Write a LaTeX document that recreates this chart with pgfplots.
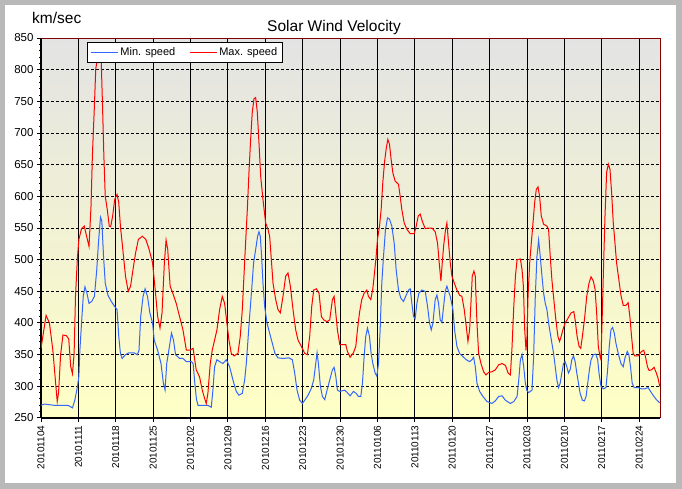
\documentclass[border=0pt]{standalone}
\usepackage{pgfplots}
\pgfplotsset{compat=1.18}
\usepackage{fontspec}
\setmainfont{Liberation Sans}
\definecolor{minblue}{RGB}{51,102,255}
\definecolor{frameRed}{RGB}{128,0,0}
\definecolor{bgtop}{RGB}{227,227,227}
\definecolor{bgbot}{RGB}{255,255,198}
\begin{document}
\begin{tikzpicture}
\useasboundingbox (0,0) rectangle (682bp,489bp);
\fill[gray!55] (0,0) rectangle (682bp,489bp);
\fill[white] (5bp,6bp) rectangle (676bp,484bp);
\begin{axis}[
 at={(41bp,71bp)}, anchor=south west, name=ax,
 scale only axis, width=619bp, height=380bp,
 xmin=0, xmax=115.9, ymin=250, ymax=850,
 axis lines*=left, axis line style={-},
 x axis line style={line width=1.2bp},
 y axis line style={line width=2bp},
 xtick={0,7,...,112},
 xticklabels={20101104,20101111,20101118,20101125,20101202,20101209,20101216,20101223,20101230,20110106,20110113,20110120,20110127,20110203,20110210,20110217,20110224},
 ytick={250,300,...,850}, minor y tick num=4,
 tick align=outside, major tick length=4bp, minor tick length=2bp,
 tick style={black, line width=1bp},
 grid=major,
 x grid style={black, line width=1bp},
 y grid style={black, line width=1bp, dash pattern=on 3bp off 2bp},
 axis background/.style={top color=bgtop, bottom color=bgbot},
 /pgf/number format/assume math mode=true,
 yticklabel style={font=\fontsize{11.5bp}{12bp}\selectfont},
 xticklabel style={rotate=90, anchor=east, font=\fontsize{10bp}{12bp}\selectfont},
 legend style={at={(0.0743,0.99)}, anchor=north west, draw=black, line width=1bp, fill=white,
   font=\fontsize{11bp}{12bp}\selectfont, legend columns=2, inner xsep=3bp, inner ysep=3.5bp,
   /tikz/every even column/.append style={column sep=12bp}, cells={anchor=west}},
 legend image code/.code={\draw[#1, line width=1bp] (0bp,0bp) -- (27bp,0bp);},
]
\addplot[minblue, line width=1bp] coordinates {
(0,270) (0.63,272) (2.53,270) (5.06,270) (5.89,266) (6.33,278) (6.84,300) (7.09,316) (7.28,357) (7.59,400)
(7.91,442) (8.23,457) (8.61,447) (8.99,431) (9.49,434) (10.00,442) (10.44,484) (10.76,527) (11.14,567) (11.39,561)
(11.71,505) (12.03,463) (12.53,444) (13.16,434) (13.80,426) (14.24,421) (14.56,379) (14.87,352) (15.19,344) (15.82,350)
(16.46,353) (17.41,353) (18.04,350) (18.35,357) (18.67,410) (19.11,442) (19.49,454) (19.94,442) (20.38,416) (20.89,400)
(21.20,373) (21.84,357) (22.47,336) (22.91,305) (23.23,294) (23.54,336) (24.05,363) (24.43,384) (24.81,373) (25.19,350)
(25.95,344) (26.58,344) (27.22,339) (28.16,339) (28.48,336) (28.8,305) (29.1,280) (29.4,270) (30.31,270) (31.25,270)
(31.88,267) (32.19,294) (32.50,331) (32.94,342) (33.44,339) (34.06,336) (34.69,342) (35.31,331) (35.94,310) (36.56,292)
(37.06,286) (37.69,289) (38.13,310) (38.44,336) (38.75,373) (39.06,410) (39.44,452) (39.81,495) (40.19,516) (40.56,537)
(40.81,544) (41.06,537) (41.31,505) (41.56,463) (41.88,426) (42.31,400) (42.81,384) (43.31,368) (43.81,352) (44.38,345)
(45.31,344) (46.44,345) (47.06,342) (47.50,321) (47.94,294) (48.44,278) (48.94,273) (49.38,278) (50.00,286) (50.63,297)
(51.06,310) (51.44,336) (51.69,353) (51.94,336) (52.31,300) (52.69,284) (53.13,279) (53.56,294) (54.06,310) (54.56,326)
(54.88,330) (55.19,316) (55.50,294) (55.94,292) (56.88,294) (57.25,291) (57.88,285) (58.50,292) (59.00,289) (59.44,284)
(59.88,284) (60.19,305) (60.50,347) (60.81,379) (61.13,392) (61.50,379) (61.81,352) (62.13,336) (62.56,321) (62.88,316)
(63.19,336) (63.50,389) (63.81,463) (64.13,505) (64.50,548) (64.88,566) (65.25,564) (65.69,553) (66.13,526) (66.50,484)
(66.94,452) (67.38,439) (67.88,434) (68.38,444) (68.81,452) (69.13,454) (69.44,431) (69.75,410) (70.06,407) (70.38,431)
(70.75,447) (71.31,452) (71.94,450) (72.38,426) (72.75,400) (73.06,389) (73.38,400) (73.81,437) (74.13,444) (74.44,431)
(74.75,405) (75.06,401) (75.38,426) (75.69,450) (76.00,458) (76.31,450) (76.63,442) (77.13,421) (77.44,389) (77.88,363)
(78.38,352) (79.00,347) (79.63,342) (80.25,339) (80.69,342) (81.00,346) (81.31,331) (81.63,305) (82.13,292) (82.75,284)
(83.50,276) (84.44,273) (85.06,277) (85.69,284) (86.34,285) (86.96,278) (87.89,273) (88.52,276) (89.14,284) (89.45,310)
(89.76,342) (90.07,350) (90.38,331) (90.69,305) (90.94,294) (91.31,290) (91.93,294) (92.24,347) (92.55,442) (92.86,505)
(93.17,531) (93.48,505) (93.80,474) (94.11,447) (94.42,431) (94.73,421) (95.04,400) (95.35,384) (95.66,368) (95.97,352)
(96.28,331) (96.59,310) (96.90,298) (97.21,305) (97.52,321) (97.83,336) (98.14,339) (98.45,331) (98.76,321) (99.07,326)
(99.39,342) (99.70,348) (100.01,339) (100.32,321) (100.63,305) (100.94,289) (101.37,278) (101.75,277) (102.06,284) (102.37,305)
(102.68,326) (102.99,342) (103.42,350) (103.86,351) (104.23,342) (104.48,321) (104.85,300) (105.29,296) (105.78,298) (106.09,326)
(106.40,363) (106.71,389) (107.02,393) (107.34,384) (107.65,368) (108.08,352) (108.58,336) (109.01,331) (109.32,344) (109.76,355)
(110.07,350) (110.38,331) (110.69,305) (111.06,298) (111.81,298) (112.43,296) (113.05,296) (113.67,298) (113.98,294) (114.60,286)
(115.22,279) (115.84,274)
};
\addlegendentry{Min. speed}
\addplot[red, line width=1bp] coordinates {
(0,360) (0.95,412) (1.58,400) (2.22,357) (2.85,294) (3.04,276) (3.29,290) (3.67,350) (4.11,381) (4.75,380)
(5.19,375) (5.57,331) (5.89,320) (6.20,352) (6.46,442) (6.8,500) (7.09,532) (7.59,549) (8.10,553) (8.54,537)
(8.99,521) (9.37,585) (9.62,664) (10.00,743) (10.25,801) (10.51,815) (10.76,838) (11.01,838) (11.27,815) (11.52,743)
(11.77,664) (12.03,600) (12.41,579) (12.78,553) (13.04,552) (13.42,569) (13.80,595) (14.24,603) (14.56,590) (14.87,553)
(15.32,516) (15.82,474) (16.33,450) (16.77,458) (17.22,484) (17.72,511) (18.23,532) (18.99,537) (19.62,532) (20.25,516)
(20.89,495) (21.39,452) (21.84,410) (22.28,392) (22.66,416) (23.10,495) (23.42,531) (23.73,516) (24.18,458) (24.68,447)
(25.32,431) (25.95,410) (26.58,389) (27.22,357) (27.85,357) (28.48,360) (29.06,326) (29.69,315) (30.19,294) (30.63,281)
(30.94,273) (31.25,289) (31.69,336) (32.06,357) (32.50,373) (32.94,389) (33.44,421) (33.94,442) (34.38,431) (34.81,400)
(35.19,373) (35.63,352) (36.13,348) (36.88,352) (37.31,379) (37.69,421) (38.00,474) (38.31,527) (38.63,579) (38.94,638)
(39.25,690) (39.56,733) (39.88,754) (40.19,756) (40.50,733) (40.81,685) (41.13,632) (41.56,595) (42.06,558) (42.50,548)
(42.81,537) (43.13,500) (43.44,463) (43.94,437) (44.38,421) (44.81,416) (45.31,442) (45.81,474) (46.25,479) (46.69,458)
(47.19,421) (47.69,389) (48.13,373) (48.75,363) (49.38,352) (49.88,350) (50.31,379) (50.69,426) (51.06,452) (51.56,454)
(52.06,447) (52.50,410) (52.94,405) (53.56,402) (54.06,405) (54.56,437) (54.88,442) (55.19,416) (55.50,389) (55.94,366)
(56.56,366) (57.06,366) (57.38,355) (57.88,346) (58.50,353) (58.94,363) (59.25,389) (59.63,416) (60.06,437) (60.50,447)
(61.00,452) (61.31,442) (61.75,437) (62.13,454) (62.44,479) (62.75,505) (63.00,532) (63.38,553) (63.69,579) (64.00,622)
(64.31,653) (64.63,675) (64.94,690) (65.25,682) (65.56,658) (65.88,637) (66.31,624) (66.94,619) (67.25,600) (67.56,579)
(68.00,558) (68.50,548) (69.13,541) (69.88,541) (70.25,553) (70.63,569) (71.00,572) (71.38,561) (71.94,549) (72.56,550)
(73.19,550) (73.81,544) (74.25,526) (74.56,495) (74.88,466) (75.13,495) (75.38,521) (75.75,548) (76.00,558) (76.31,526)
(76.63,495) (76.94,474) (77.38,463) (77.88,452) (78.38,444) (78.81,442) (79.25,421) (79.63,394) (79.94,371) (80.25,389)
(80.50,431) (80.75,474) (81.06,482) (81.31,474) (81.63,400) (81.94,352) (82.38,336) (82.88,323) (83.31,318) (83.81,322)
(84.44,323) (85.06,326) (85.69,334) (86.34,336) (86.96,333) (87.46,321) (87.89,318) (88.20,363) (88.52,426) (88.83,474)
(89.14,500) (89.76,501) (90.07,484) (90.32,458) (90.57,389) (90.81,357) (91.00,379) (91.19,442) (91.50,495) (91.81,527)
(92.12,558) (92.43,590) (92.74,611) (93.05,615) (93.36,600) (93.67,569) (94.11,556) (94.73,553) (95.04,548) (95.35,505)
(95.66,468) (96.09,431) (96.40,405) (96.78,379) (97.09,371) (97.40,379) (97.71,389) (98.14,400) (98.64,407) (99.26,416)
(99.76,418) (100.01,405) (100.38,379) (100.75,363) (101.06,360) (101.37,379) (101.75,405) (102.18,442) (102.61,463) (102.99,473)
(103.42,466) (103.73,454) (104.04,416) (104.35,363) (104.66,347) (104.85,342) (105.10,416) (105.35,495) (105.60,569) (105.91,638)
(106.22,651) (106.53,643) (106.84,606) (107.15,558) (107.46,527) (107.77,495) (108.20,468) (108.58,444) (109.01,428) (109.51,428)
(109.94,432) (110.26,410) (110.57,379) (110.88,352) (111.19,348) (111.81,348) (112.43,355) (112.86,357) (113.17,347) (113.55,331)
(113.86,325) (114.29,326) (114.79,330) (115.22,321) (115.53,313) (115.84,300)
};
\addlegendentry{Max. speed}
\end{axis}
\draw[frameRed, line width=1bp] (ax.north west) -- (ax.north east) -- (ax.south east);
\node[anchor=base, font=\fontsize{15.5bp}{18bp}\selectfont] at (334bp,457bp) {Solar Wind Velocity};
\node[anchor=base west, inner sep=0pt, font=\fontsize{15.5bp}{18bp}\selectfont] at (32bp,465bp) {km/sec};
\end{tikzpicture}
\end{document}
